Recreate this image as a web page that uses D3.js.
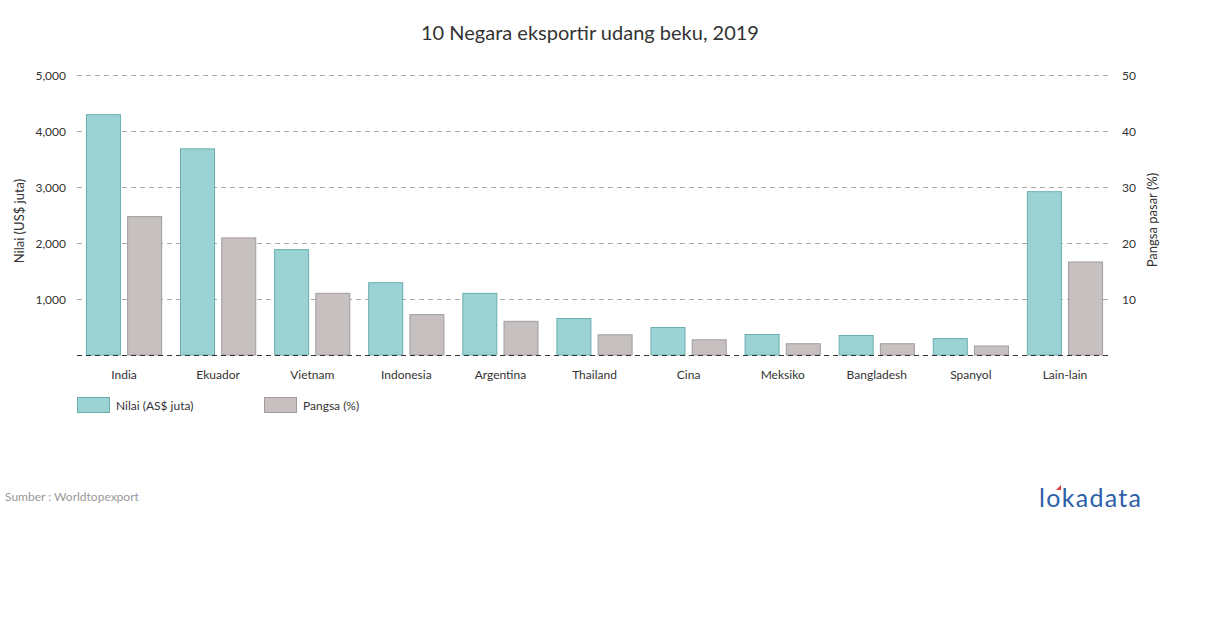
<!DOCTYPE html>
<html>
<head>
<meta charset="utf-8">
<script src="https://cdn.jsdelivr.net/npm/d3@7"></script>
<style>
  body { margin: 0; background: #fff; }
  svg { display: block; font-family: Lato, "Open Sans", sans-serif; }
</style>
</head>
<body>
<svg id="chart" width="1210" height="628"></svg>
<script>
const categories = ["India","Ekuador","Vietnam","Indonesia","Argentina","Thailand","Cina","Meksiko","Bangladesh","Spanyol","Lain-lain"];
const nilai = [4300, 3690, 1890, 1300, 1110, 660, 500, 375, 357, 302, 2925];
const pangsa = [24.8, 21.0, 11.1, 7.3, 6.1, 3.7, 2.8, 2.1, 2.1, 1.7, 16.7];
const leftTicks = [0, 1000, 2000, 3000, 4000, 5000];
const rightTicks = [0, 10, 20, 30, 40, 50];
const seriesNames = ["Nilai (AS$ juta)", "Pangsa (%)"];

const svg = d3.select("#chart");
const m = {left: 77, right: 1112, top: 75, bottom: 355};

const x = d3.scaleBand().domain(categories).range([m.left, m.right]).paddingInner(0.19).paddingOuter(0.095);
const xs = d3.scaleBand().domain([0,1]).range([0, x.bandwidth()]).paddingInner(0.15);
const yL = d3.scaleLinear().domain([0, 5000]).range([m.bottom, m.top]);
const yR = d3.scaleLinear().domain([0, 50]).range([m.bottom, m.top]);

// title
svg.append("text").attr("x", 590).attr("y", 40).attr("text-anchor", "middle")
  .attr("font-size", 20).attr("fill", "#333").text("10 Negara eksportir udang beku, 2019");

// gridlines
svg.append("g").selectAll("line").data(leftTicks.filter(d => d > 0)).join("line")
  .attr("x1", m.left).attr("x2", m.right)
  .attr("y1", d => yL(d) + 0.5).attr("y2", d => yL(d) + 0.5)
  .attr("stroke", "#aaa").attr("stroke-dasharray", "5,4");

// bars
const colors = [{fill: "#9bd3d4", stroke: "#6aadad"}, {fill: "#c6c0c0", stroke: "#a29c9c"}];
const g = svg.append("g");
categories.forEach((c, i) => {
  g.append("rect").attr("x", x(c) + xs(0) + 0.5).attr("y", yL(nilai[i]) + 0.5)
    .attr("width", xs.bandwidth() - 1).attr("height", yL(0) - yL(nilai[i]) - 0.5)
    .attr("fill", colors[0].fill).attr("stroke", colors[0].stroke);
  g.append("rect").attr("x", x(c) + xs(1) + 0.5).attr("y", yR(pangsa[i]) + 0.5)
    .attr("width", xs.bandwidth() - 1).attr("height", yR(0) - yR(pangsa[i]) - 0.5)
    .attr("fill", colors[1].fill).attr("stroke", colors[1].stroke);
});

// baseline
svg.append("line").attr("x1", m.left).attr("x2", m.right)
  .attr("y1", yL(0) + 0.5).attr("y2", yL(0) + 0.5)
  .attr("stroke", "#333").attr("stroke-dasharray", "5,4");

// left axis
const fmt = d3.format(",");
const la = svg.append("g").attr("transform", `translate(${m.left - 11},1)`)
  .call(d3.axisLeft(yL).tickValues(leftTicks.filter(d => d > 0)).tickFormat(fmt).tickSize(0).tickPadding(0));
la.select(".domain").remove();
la.selectAll("text").attr("font-size", 12).attr("fill", "#333").attr("font-family", "Lato, sans-serif");

// right axis
const ra = svg.append("g").attr("transform", `translate(${m.right + 10},1)`)
  .call(d3.axisRight(yR).tickValues(rightTicks.filter(d => d > 0)).tickSize(0).tickPadding(0));
ra.select(".domain").remove();
ra.selectAll("text").attr("font-size", 12).attr("fill", "#333").attr("font-family", "Lato, sans-serif");

// axis titles
svg.append("text").attr("transform", `translate(24,${(m.top + m.bottom)/2 + 6}) rotate(-90)`)
  .attr("text-anchor", "middle").attr("font-size", 13).attr("fill", "#333").text("Nilai (US$ juta)");
svg.append("text").attr("transform", `translate(1157,${(m.top + m.bottom)/2 + 5}) rotate(-90)`)
  .attr("text-anchor", "middle").attr("font-size", 13).attr("fill", "#333").text("Pangsa pasar (%)");

// x axis labels
const xa = svg.append("g").attr("transform", `translate(0,${m.bottom + 15})`)
  .call(d3.axisBottom(x).tickSize(0).tickPadding(0));
xa.select(".domain").remove();
xa.selectAll("text").attr("font-size", 12).attr("fill", "#333").attr("font-family", "Lato, sans-serif").attr("dy", "0.71em");

// legend
const legX = [77, 264];
seriesNames.forEach((s, i) => {
  svg.append("rect").attr("x", legX[i] + 0.5).attr("y", 397.5).attr("width", 32).attr("height", 15)
    .attr("fill", colors[i].fill).attr("stroke", colors[i].stroke);
  svg.append("text").attr("x", legX[i] + 39).attr("y", 409.5).attr("font-size", 12)
    .attr("fill", "#333").text(s);
});

// source
svg.append("text").attr("x", 5).attr("y", 501).attr("font-size", 12).attr("fill", "#999").text("Sumber : Worldtopexport");

// logo
const logo = svg.append("text").attr("x", 1039).attr("y", 507).attr("font-size", 25)
  .attr("fill", "#2d5fa8").attr("font-family", "Lato, sans-serif").attr("letter-spacing", "1.3");
logo.text("lokadata");
svg.append("path").attr("d", "M1056,490 l5,-5 l0,5 z").attr("fill", "#e0393e");
</script>
</body>
</html>
